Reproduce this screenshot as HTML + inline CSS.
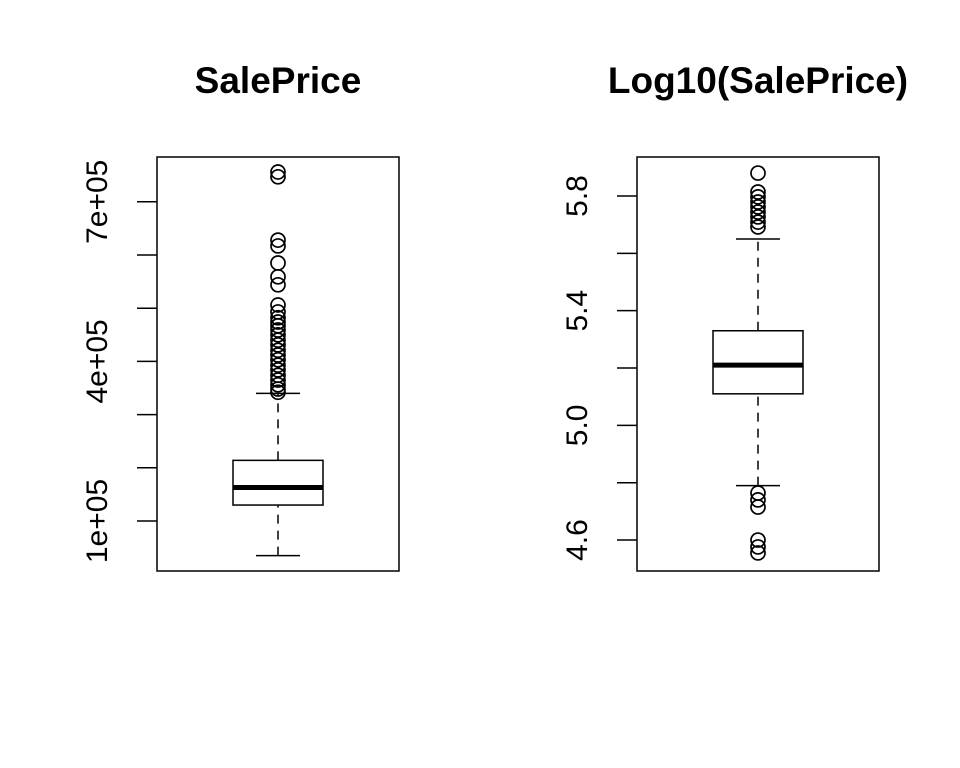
<!DOCTYPE html>
<html><head><meta charset="utf-8"><style>body{margin:0;background:#fff}svg{display:block}</style></head>
<body>
<svg id="s" width="960" height="768" xmlns="http://www.w3.org/2000/svg" font-family="Liberation Sans, Arial, sans-serif"></svg>
<script>
const leftStats=[34900,130000,163000,214000,340000];
const leftOutliers=[756000,747000,628000,617000,585000,559000,544000,506000,493000,482000,474000,467000,459000,450000,440000,431000,421000,412000,403000,393000,384000,374000,365000,356000,348000,342000];
const leftTicks=[100000,200000,300000,400000,500000,600000,700000];
const leftLabels=["1e+05","","","4e+05","","","7e+05"];
const rightStats=[4.79,5.11,5.21,5.33,5.65];
const rightOutliers=[5.88,5.814,5.797,5.779,5.762,5.744,5.727,5.709,5.692,4.764,4.74,4.715,4.6,4.576,4.555];
const rightTicks=[4.6,4.8,5.0,5.2,5.4,5.6,5.8];
const rightLabels=["4.6","","5.0","","5.4","","5.8"];
const NS="http://www.w3.org/2000/svg";
const svg=document.getElementById('s');
function mk(tag,at,parent){const e=document.createElementNS(NS,tag);for(const k in at)e.setAttribute(k,at[k]);(parent||svg).appendChild(e);return e;}
function panel(x0,x1,title,y,stats,outs,ticks,labels,prefix){
  const g=mk('g',{});
  
  
  const t=mk('text',{x:(x0+x1)/2,y:93,'text-anchor':'middle','font-size':37,'font-weight':'bold'},g);
  t.textContent=title;
  
  
  const fr=mk('rect',{x:x0,y:157,width:x1-x0,height:414,fill:'none',stroke:'#000','stroke-width':1.5},g);
  
  
  const ax=mk('g',{},g);
  
  
  ticks.forEach((v,i)=>{
    mk('line',{x1:x0-20,x2:x0,y1:y(v),y2:y(v),stroke:'#000','stroke-width':1.5},ax);
    if(labels[i]){const l=mk('text',{x:0,y:0,transform:`translate(${x0-50},${y(v)}) rotate(-90)`,'text-anchor':'middle','font-size':30},ax);l.textContent=labels[i];
      
      }
  });
  const cx=(x0+x1)/2, bw=45;
  const b=mk('g',{},g);
  
  
  mk('line',{x1:cx,x2:cx,y1:y(stats[0]),y2:y(stats[1]),stroke:'#000','stroke-width':1.5,'stroke-dasharray':'9,7'},b);
  mk('line',{x1:cx,x2:cx,y1:y(stats[3]),y2:y(stats[4]),stroke:'#000','stroke-width':1.5,'stroke-dasharray':'9,7'},b);
  mk('line',{x1:cx-22,x2:cx+22,y1:y(stats[0]),y2:y(stats[0]),stroke:'#000','stroke-width':1.5},b);
  mk('line',{x1:cx-22,x2:cx+22,y1:y(stats[4]),y2:y(stats[4]),stroke:'#000','stroke-width':1.5},b);
  mk('rect',{x:cx-bw,y:y(stats[3]),width:bw*2,height:y(stats[1])-y(stats[3]),fill:'#fff',stroke:'#000','stroke-width':1.5},b);
  mk('line',{x1:cx-bw,x2:cx+bw,y1:y(stats[2]),y2:y(stats[2]),stroke:'#000','stroke-width':5},b);
  outs.forEach(v=>{const c=mk('circle',{cx:cx,cy:y(v),r:7,fill:'none',stroke:'#000','stroke-width':1.7},g);
    
    });
}
const yl=v=>521-(v-100000)/100000*53.2;
const yr=v=>196+(5.8-v)*286.7;
panel(157,399,'SalePrice',yl,leftStats,leftOutliers,leftTicks,leftLabels,'saleprice');
panel(637,879,'Log10(SalePrice)',yr,rightStats,rightOutliers,rightTicks,rightLabels,'log-saleprice');
</script>
</body></html>
